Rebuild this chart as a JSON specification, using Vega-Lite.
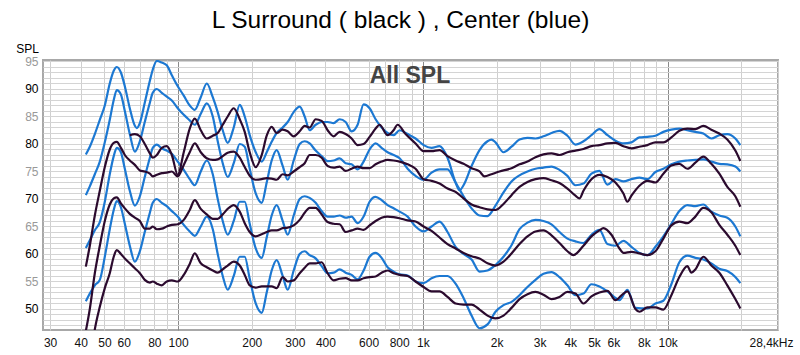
{
"$schema":"https://vega.github.io/schema/vega-lite/v6.json",
"width":735,"height":270,
"autosize":{"type":"none"},
"padding":{"left":43,"top":60,"right":22,"bottom":25},
"background":"white",
"config":{"view":{"stroke":"#a8a8a8","strokeWidth":2},"font":"Liberation Sans"},
"title":{"text":"L Surround ( black ) , Center (blue)","fontSize":24.5,"fontWeight":"normal","font":"Liberation Sans","color":"#000000","anchor":"middle","frame":"group","dx":-10,"offset":9},
"resolve":{"axis":{"y":"independent"}},
"datasets":{"d":[
{"f":42.0,"B1":78.1,"B2":70.7,"B3":61.1,"B4":51.4,"K2":57.7,"K3":46.0,"K4":36.0},
{"f":43.6,"B1":79.5,"B2":72.3,"B3":62.5,"B4":52.8,"K2":61.5,"K3":50.0,"K4":40.0},
{"f":45.7,"B1":81.8,"B2":74.5,"B3":64.3,"B4":54.3,"K2":67.0,"K3":56.5,"K4":46.3},
{"f":47.9,"B1":84.4,"B2":76.8,"B3":65.8,"B4":55.3,"K2":71.5,"K3":61.5,"K4":50.4},
{"f":50.2,"B1":87.0,"B2":80.3,"B3":69.5,"B4":59.5,"K2":75.8,"K3":66.0,"K4":53.8},
{"f":52.6,"B1":91.0,"B2":84.4,"B3":74.5,"B4":64.5,"K2":79.0,"K3":69.0,"K4":56.5},
{"f":54.6,"B1":93.3,"B2":88.0,"B3":77.8,"B4":68.0,"K2":80.2,"K3":70.1,"K4":59.5},
{"f":56.2,"B1":94.0,"B2":89.8,"B3":79.3,"B4":69.6,"K2":80.4,"K3":70.3,"K4":60.7},
{"f":58.4,"B1":93.0,"B2":89.0,"B3":78.5,"B4":68.5,"K2":79.3,"K3":69.2,"K4":60.0},
{"f":60.6,"B1":90.5,"B2":86.0,"B3":75.5,"B4":65.5,"K2":78.0,"K3":68.3,"K4":59.2},
{"f":63.5,"B1":86.5,"B2":81.8,"B3":71.5,"B4":61.5,"K1":81.6,"K2":77.0,"K3":67.3,"K4":58.3},
{"f":66.6,"B1":83.3,"B2":78.6,"B3":68.8,"B4":58.6,"K1":81.8,"K2":76.2,"K3":66.6,"K4":57.4},
{"f":67.8,"B1":82.9},
{"f":69.8,"B1":83.8,"B2":80.5,"B3":70.5,"B4":60.5,"K1":81.4,"K2":75.2,"K3":66.0,"K4":56.5},
{"f":73.1,"B1":87.5,"B2":84.0,"B3":74.0,"B4":64.0,"K1":80.0,"K2":75.0,"K3":64.6,"K4":55.3},
{"f":76.7,"B1":91.5,"B2":87.5,"B3":77.5,"B4":67.5,"K1":78.3,"K2":74.6,"K3":64.6,"K4":54.8},
{"f":78.8,"B1":93.5,"B2":89.3,"B3":79.3,"B4":69.3,"K1":77.5,"K2":74.1,"K3":65.0,"K4":55.0},
{"f":81.9,"B1":95.1,"B2":90.0,"B3":79.9,"B4":70.0,"K1":78.0,"K2":74.4,"K3":64.5,"K4":54.6},
{"f":85.8,"B1":94.8,"B2":89.3,"B3":79.2,"B4":69.3,"K1":79.3,"K2":74.7,"K3":64.6,"K4":54.3},
{"f":89.9,"B1":94.3,"B2":88.6,"B3":78.8,"B4":68.7,"K1":79.6,"K2":74.8,"K3":65.0,"K4":55.0},
{"f":94.3,"B1":92.5,"B2":87.9,"B3":78.2,"B4":67.8,"K1":78.0,"K2":75.0,"K3":65.3,"K4":55.2},
{"f":99.7,"B1":90.5,"B2":86.5,"B3":76.8,"B4":66.8,"K1":74.4,"K2":74.1,"K3":65.4,"K4":55.0},
{"f":105.5,"B1":88.8,"B2":85.3,"B3":75.3,"B4":65.3,"K1":78.5,"K2":76.2,"K3":66.2,"K4":56.2},
{"f":111.6,"B1":87.0,"B2":84.3,"B3":73.6,"B4":64.1,"K1":82.8,"K2":78.5,"K3":68.0,"K4":58.2},
{"f":117.0,"B1":86.2,"B2":83.5,"B3":72.5,"B4":63.3,"K1":84.6,"K2":80.1,"K3":69.8,"K4":60.1},
{"f":123.8,"B1":88.5,"B2":85.5,"B3":75.0,"B4":65.0,"K1":82.5,"K2":78.5,"K3":68.2,"K4":58.3},
{"f":131.0,"B1":91.0,"B2":87.4,"B3":77.0,"B4":66.8,"K1":81.0,"K2":77.4,"K3":67.2,"K4":57.6},
{"f":138.6,"B1":88.5,"B2":85.0,"B3":74.5,"B4":64.5,"K1":81.5,"K2":77.1,"K3":66.4,"K4":57.0},
{"f":145.2,"B1":85.8,"B2":80.5,"B3":70.0,"B4":60.0,"K1":82.0,"K2":77.2,"K3":66.4,"K4":56.6},
{"f":152.2,"B1":82.5,"B2":76.5,"B3":66.0,"B4":56.0,"K1":83.5,"K2":77.8,"K3":67.2,"K4":57.2},
{"f":159.5,"B1":80.2,"B2":74.0,"B3":63.5,"B4":53.5,"K1":85.0,"K2":78.4,"K3":68.2,"K4":57.9},
{"f":168.8,"B1":83.0,"B2":76.5,"B3":66.0,"B4":56.0,"K1":86.5,"K2":78.6,"K3":68.9,"K4":58.6},
{"f":178.6,"B1":87.1,"B2":80.0,"B3":69.5,"B4":59.5,"K1":84.5,"K2":77.5,"K3":67.7,"K4":57.9},
{"f":187.2,"B1":85.0,"B2":79.5,"B3":69.5,"B4":59.5,"K1":82.2,"K2":75.8,"K3":65.6,"K4":56.2},
{"f":196.2,"B1":81.6,"B2":75.5,"B3":65.5,"B4":55.5,"K1":78.5,"K2":74.2,"K3":64.0,"K4":54.3},
{"f":207.6,"B1":78.5,"B2":71.0,"B3":61.0,"B4":51.0,"K1":75.8,"K2":73.5,"K3":63.2,"K4":53.9},
{"f":219.6,"B1":76.8,"B2":69.3,"B3":59.3,"B4":49.3,"K1":78.0,"K2":73.6,"K3":63.6,"K4":54.1},
{"f":230.2,"B1":78.5,"B2":73.0,"B3":63.0,"B4":53.0,"K1":81.5,"K2":73.8,"K3":64.0,"K4":54.1},
{"f":241.2,"B1":80.4,"B2":77.0,"B3":67.0,"B4":57.0,"K1":83.1,"K2":73.7,"K3":64.3,"K4":54.1},
{"f":252.8,"B1":82.0,"B2":78.9,"B3":68.9,"B4":58.9,"K1":82.0,"K2":73.5,"K3":64.3,"K4":53.8},
{"f":267.5,"B1":83.0,"B2":76.0,"B3":66.0,"B4":56.0,"K1":82.6,"K2":74.5,"K3":64.7,"K4":55.8},
{"f":280.4,"B1":84.0,"B2":73.5,"B3":63.5,"B4":53.5,"K1":82.3,"K2":74.3,"K3":64.8,"K4":55.0},
{"f":296.7,"B1":85.8,"B2":77.0,"B3":67.0,"B4":57.0,"K1":81.4,"K2":75.0,"K3":65.2,"K4":55.2},
{"f":313.9,"B1":86.8,"B2":80.0,"B3":70.0,"B4":60.0,"K1":82.3,"K2":75.8,"K3":66.2,"K4":56.5},
{"f":329.0,"B1":85.0,"B2":80.5,"B3":70.5,"B4":60.5,"K1":83.3,"K2":76.5,"K3":67.5,"K4":57.5},
{"f":344.8,"B1":82.5,"B2":80.1,"B3":70.2,"B4":59.8,"K1":83.0,"K2":78.0,"K3":68.4,"K4":58.3},
{"f":364.8,"B1":83.5,"B2":78.8,"B3":69.3,"B4":59.2,"K1":84.5,"K2":78.0,"K3":68.4,"K4":58.3},
{"f":385.9,"B1":84.0,"B2":77.8,"B3":67.8,"B4":57.8,"K1":84.2,"K2":77.5,"K3":67.2,"K4":58.5},
{"f":408.3,"B1":84.0,"B2":76.9,"B3":66.8,"B4":56.5,"K1":82.5,"K2":76.0,"K3":65.8,"K4":56.5},
{"f":432.0,"B1":83.8,"B2":77.0,"B3":66.8,"B4":56.6,"K1":81.4,"K2":75.7,"K3":65.5,"K4":55.2},
{"f":457.1,"B1":84.5,"B2":77.4,"B3":67.0,"B4":57.2,"K1":82.2,"K2":75.9,"K3":65.4,"K4":55.5},
{"f":483.6,"B1":84.0,"B2":76.5,"B3":66.6,"B4":56.6,"K1":81.8,"K2":75.1,"K3":64.0,"K4":55.6},
{"f":511.7,"B1":82.3,"B2":76.3,"B3":66.8,"B4":56.2,"K1":81.0,"K2":75.5,"K3":64.3,"K4":55.2},
{"f":541.3,"B1":83.5,"B2":75.4,"B3":65.6,"B4":55.4,"K1":79.8,"K2":75.9,"K3":64.6,"K4":55.2},
{"f":572.7,"B1":87.2,"B2":76.8,"B3":66.8,"B4":57.0,"K1":80.0,"K2":75.6,"K3":64.4,"K4":55.6},
{"f":605.9,"B1":86.5,"B2":79.0,"B3":69.5,"B4":59.5,"K1":81.3,"K2":75.6,"K3":65.2,"K4":55.8},
{"f":641.1,"B1":84.5,"B2":80.1,"B3":70.4,"B4":60.2,"K1":82.8,"K2":76.3,"K3":66.0,"K4":55.9},
{"f":665.6,"K1":83.5},
{"f":678.3,"B1":83.0,"B2":79.3,"B3":69.8,"B4":59.3,"K2":76.8,"K3":66.6,"K4":56.6},
{"f":717.6,"B1":82.0,"B2":78.5,"B3":68.9,"B4":57.6,"K1":81.6,"K2":77.1,"K3":66.8,"K4":57.0},
{"f":759.3,"B1":81.6,"B2":78.0,"B3":68.3,"B4":56.8,"K1":82.5,"K2":77.0,"K3":66.7,"K4":56.5},
{"f":788.4,"K1":83.5},
{"f":803.4,"B1":82.5,"B2":77.4,"B3":67.7,"B4":56.3,"K2":76.8,"K3":66.5,"K4":56.2},
{"f":850.0,"K1":81.8},
{"f":866.4,"B1":81.8,"B2":75.5,"B3":66.8,"B4":56.1,"K2":76.3,"K3":66.1,"K4":56.0},
{"f":933.7,"B1":81.0,"B2":74.2,"B3":65.0,"B4":55.0,"K1":80.1,"K2":75.5,"K3":65.9,"K4":55.0},
{"f":1007,"B1":79.8,"B2":73.5,"B3":64.1,"B4":54.7,"K1":78.7,"K2":73.6,"K3":65.0,"K4":54.0},
{"f":1085,"B1":79.3,"B2":74.8,"B3":65.0,"B4":55.6,"K1":78.7,"K2":73.3,"K3":64.2,"K4":53.2},
{"f":1170,"B1":79.6,"B2":75.4,"B3":65.9,"B4":56.0,"K1":78.9,"K2":72.8,"K3":63.0,"K4":53.2},
{"f":1261,"B1":77.5,"B2":75.4,"B3":64.0,"B4":56.0,"K1":77.8,"K2":71.9,"K3":61.8,"K4":52.2},
{"f":1360,"B1":73.0,"B2":73.0,"B3":61.3,"B4":54.6,"K1":77.0,"K2":71.3,"K3":61.0,"K4":51.0},
{"f":1412,"B1":71.6},
{"f":1466,"B1":72.5,"B2":70.5,"B3":60.0,"B4":52.0,"K1":76.4,"K2":70.1,"K3":60.2,"K4":50.8},
{"f":1581,"B1":76.0,"B2":68.3,"B3":59.0,"B4":48.8,"K1":75.6,"K2":69.0,"K3":59.6,"K4":50.8},
{"f":1704,"B1":78.9,"B2":67.0,"B3":56.8,"B4":46.5,"K1":75.0,"K2":68.5,"K3":59.2,"K4":49.9},
{"f":1786,"K1":74.1},
{"f":1837,"B1":80.5,"B2":66.9,"B3":57.0,"B4":47.2,"K2":68.1,"K3":58.3,"K4":48.8},
{"f":1907,"B1":80.8,"K1":74.5},
{"f":1980,"B1":80.3,"B2":68.8,"B3":58.0,"B4":49.5,"K2":68.0,"K3":57.9,"K4":48.3},
{"f":2056,"K1":75.0},
{"f":2135,"B1":78.5,"B2":71.2,"B3":59.5,"B4":50.7,"K2":69.1,"K3":58.6,"K4":48.8},
{"f":2302,"B1":79.5,"B2":73.2,"B3":61.6,"B4":51.3,"K1":75.6,"K2":70.7,"K3":60.1,"K4":50.2},
{"f":2482,"B1":80.8,"B2":74.3,"B3":64.5,"B4":52.5,"K1":76.3,"K2":72.2,"K3":61.8,"K4":51.8},
{"f":2675,"B1":81.1,"B2":75.0,"B3":65.7,"B4":54.0,"K1":76.8,"K2":73.1,"K3":63.2,"K4":52.7},
{"f":2884,"B1":81.0,"B2":75.5,"B3":66.2,"B4":55.3,"K1":77.6,"K2":73.6,"K3":64.1,"K4":53.1},
{"f":3109,"B1":81.4,"B2":75.7,"B3":66.0,"B4":56.4,"K1":78.1,"K2":73.8,"K3":64.3,"K4":52.6},
{"f":3352,"B1":82.0,"B2":75.9,"B3":65.4,"B4":56.7,"K1":78.3,"K2":73.4,"K3":63.4,"K4":51.8},
{"f":3614,"B1":82.4,"B2":75.3,"B3":64.0,"B4":55.8,"K1":78.0,"K2":72.9,"K3":62.0,"K4":52.2},
{"f":3896,"B1":81.5,"B2":74.2,"B3":62.8,"B4":54.3,"K1":78.5,"K2":71.9,"K3":60.5,"K4":53.1},
{"f":4121,"K3":59.8},
{"f":4201,"B1":79.9,"B2":72.5,"B3":62.3,"B4":52.5,"K1":78.8,"K2":70.6,"K4":52.8},
{"f":4362,"K2":70.1},
{"f":4529,"B1":80.5,"B2":72.8,"B3":62.0,"B4":52.8,"K1":79.1,"K2":71.5,"K3":61.5,"K4":51.0},
{"f":4882,"B1":81.6,"B2":74.6,"B3":63.5,"B4":54.5,"K1":79.6,"K2":73.6,"K3":63.2,"K4":52.3},
{"f":5263,"B1":82.7,"B2":75.1,"B3":64.4,"B4":54.1,"K1":79.8,"K2":74.4,"K3":64.3,"K4":53.0},
{"f":5463,"K3":64.7},
{"f":5675,"B1":81.6,"B2":72.6,"B3":61.8,"B4":53.2,"K1":80.1,"K2":74.0,"K4":53.3},
{"f":5892,"K3":63.5},
{"f":6118,"B1":80.6,"B2":73.6,"B3":61.5,"B4":52.0,"K1":80.2,"K2":73.0,"K4":51.6},
{"f":6352,"B4":51.6,"K3":61.0},
{"f":6596,"B1":80.1,"B2":73.2,"B3":62.4,"K1":79.6,"K2":71.0,"K3":60.2,"K4":52.8},
{"f":6846,"B4":53.5,"K2":69.5,"K4":53.2},
{"f":7112,"B1":80.3,"B2":73.6,"B3":61.3,"K1":79.2,"K2":70.6,"K3":60.4},
{"f":7384,"B4":50.2,"K4":50.0},
{"f":7667,"B1":81.2,"B2":73.9,"B3":60.2,"K1":79.5,"K2":72.4,"K3":60.1,"K4":49.5},
{"f":8266,"B1":81.3,"B2":73.6,"B3":59.8,"B4":50.1,"K1":79.8,"K2":73.3,"K3":59.8,"K4":50.3},
{"f":8912,"B1":81.5,"B2":74.9,"B3":61.3,"B4":51.0,"K1":80.3,"K2":73.0,"K3":60.5,"K4":50.3},
{"f":9604,"B1":82.2,"B2":75.5,"B3":63.2,"B4":51.5,"K1":80.3,"K2":74.6,"K3":62.8,"K4":49.9},
{"f":10354,"B1":82.6,"B2":76.3,"B3":65.5,"B4":54.5,"K1":81.2,"K2":76.1,"K3":65.2,"K4":52.5},
{"f":11162,"B1":82.8,"B2":76.8,"B3":67.8,"B4":58.5,"K1":82.4,"K2":76.4,"K3":65.9,"K4":55.8},
{"f":12034,"B1":82.5,"B2":77.0,"B3":68.9,"B4":59.7,"K1":82.8,"K2":75.5,"K3":65.6,"K4":57.8},
{"f":12496,"K4":56.6},
{"f":12974,"B1":82.2,"B2":77.1,"B3":68.7,"B4":59.3,"K1":82.7,"K2":76.6,"K3":66.8,"K4":57.2},
{"f":13987,"B1":81.9,"B2":77.2,"B3":69.0,"B4":59.0,"K1":83.3,"K2":77.7,"K3":68.4,"K4":59.5},
{"f":15080,"B1":81.0,"B2":76.8,"B3":67.7,"B4":58.3,"K1":82.6,"K2":76.4,"K3":67.6,"K4":57.9},
{"f":16257,"B1":81.6,"B2":76.4,"B3":67.0,"B4":57.3,"K1":81.9,"K2":74.6,"K3":65.3,"K4":56.6},
{"f":17527,"B1":81.8,"B2":76.3,"B3":66.6,"B4":56.9,"K1":80.8,"K2":72.2,"K3":63.5,"K4":54.3},
{"f":18896,"B1":81.0,"B2":75.9,"B3":65.0,"B4":55.8,"K1":78.8,"K2":70.5,"K3":61.5,"K4":51.8},
{"f":19806,"B1":79.8,"B2":75.0,"B3":63.2,"B4":54.7,"K1":76.9,"K2":68.6,"K3":59.8,"K4":50.1}
]},
"data":{"name":"d"},
"layer":[
{"transform":[{"fold":["B1","B2","B3","B4"],"as":["s","v"]},{"filter":"isValid(datum.v)"}],
"mark":{"type":"line","color":"#1c78d2","strokeWidth":2.2,"interpolate":"monotone","clip":true},
"encoding":{
"x":{"field":"f","type":"quantitative","scale":{"type":"log","domain":[28.07,28230],"nice":false},
"axis":{"title":null,"values":[30,40,50,60,70,80,90,100,200,300,400,500,600,700,800,900,1000,2000,3000,4000,5000,6000,7000,8000,9000,10000,20000,28230],
"labelExpr":"datum.value >= 28000 ? '28,4kHz' : indexof([70,90,500,700,900,7000,9000,20000], datum.value) >= 0 ? '' : datum.value >= 1000 ? (datum.value/1000) + 'k' : datum.value + ''",
"grid":true,"gridColor":{"condition":{"test":"datum.value == 100 || datum.value == 1000 || datum.value == 10000","value":"#8a8a8a"},"value":"#cfcfcf"},"gridWidth":1,
"ticks":false,"tickSize":0,"domain":false,"labelPadding":7,"labelFontSize":12,"labelFont":"Liberation Sans","labelColor":"#111111","labelFlush":true,"labelFlushOffset":15,"labelOverlap":false}},
"y":{"field":"v","type":"quantitative","scale":{"domain":[46.18,95.27],"nice":false,"zero":false},
"axis":{"values":[50,55,60,65,70,75,80,85,90,95],
"grid":true,"gridColor":"#d4d4d4","gridWidth":1,"ticks":false,"tickSize":0,"domain":false,"labelPadding":5,"labelFontSize":12,"labelFont":"Liberation Sans",
"labelColor":{"condition":{"test":"datum.value % 10 === 0","value":"#000000"},"value":"#999999"},"labelOverlap":false,
"title":"SPL","titleAngle":0,"titleX":-16,"titleY":-8,"titleAlign":"center","titleBaseline":"alphabetic","titleFontSize":12,"titleFontWeight":"normal","titleColor":"#000000","titleFont":"Liberation Sans"}},
"detail":{"field":"s"}}},
{"transform":[{"fold":["K1","K2","K3","K4"],"as":["s","v"]},{"filter":"isValid(datum.v)"}],
"mark":{"type":"line","color":"#2b0a2e","strokeWidth":2.2,"interpolate":"monotone","clip":true},
"encoding":{
"x":{"field":"f","type":"quantitative"},
"y":{"field":"v","type":"quantitative","axis":{"orient":"right","values":[47,48,49,51,52,53,54,56,57,58,59,61,62,63,64,66,67,68,69,71,72,73,74,76,77,78,79,81,82,83,84,86,87,88,89,91,92,93,94],"labels":false,"grid":true,"gridColor":"#d4d4d4","gridWidth":1,"ticks":false,"domain":false,"title":null}},
"detail":{"field":"s"}}},
{"data":{"values":[{}]},
"mark":{"type":"text","text":"All SPL","fontSize":23,"fontWeight":"bold","font":"Liberation Sans","color":"#444444","baseline":"alphabetic","align":"center"},
"encoding":{"x":{"datum":886,"type":"quantitative"},"y":{"datum":91.0,"type":"quantitative","axis":null}}}
]
}
